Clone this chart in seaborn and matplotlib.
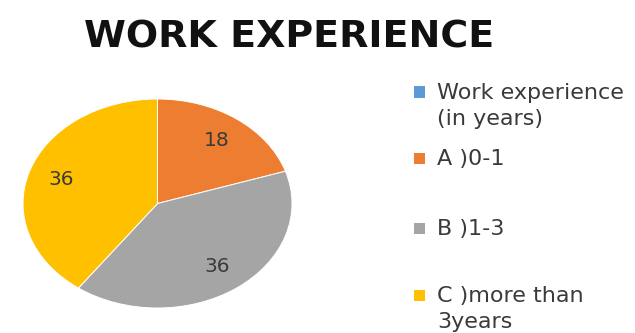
import matplotlib
matplotlib.use("Agg")
import matplotlib.pyplot as plt
from matplotlib.patches import Rectangle
import seaborn as sns

# Survey data: work experience of respondents
categories = ["Work experience\n(in years)", "A )0-1", "B )1-3", "C )more than\n3years"]
counts = [0, 18, 36, 36]
colors = ["#5B9BD5", "#ED7D31", "#A5A5A5", "#FFC000"]
title = "WORK EXPERIENCE"

sns.set_theme(style="white")
palette = sns.color_palette(colors)
plt.rcParams["font.family"] = ["DejaVu Sans"]

W, H = 635, 333
fig = plt.figure(figsize=(W / 100, H / 100), dpi=100)
fig.patch.set_facecolor("white")

# Pie occupies a slightly flattened ellipse on the left
left, right, top, bottom = 23, 292, 99, 308
ax = fig.add_axes([left / W, 1 - bottom / H, (right - left) / W, (bottom - top) / H])

total = sum(counts)
shown = [(c, p) for c, p in zip(counts, palette) if c > 0]
wedges, _, autotexts = ax.pie(
    [c for c, _ in shown],
    colors=[p for _, p in shown],
    startangle=90,
    counterclock=False,
    autopct=lambda pct: f"{pct * total / 100:.0f}",
    pctdistance=0.75,
    radius=1.0,
    wedgeprops=dict(edgecolor="white", linewidth=0.7),
    textprops=dict(fontsize=14.5, color="#3a3a3a"),
)
ax.set_aspect("auto")
ax.set_xlim(-1, 1)
ax.set_ylim(-1, 1)
ax.axis("off")

# Title
fig.text(289 / W, 1 - 48 / H, title, ha="center", va="baseline",
         fontsize=27.4, fontweight="bold", color="#111111")

# Legend: square key aligned with the first line of each label
legend_fs = 16
row_centers = [92, 158, 228, 295]
for label, color, yc in zip(categories, palette, row_centers):
    fig.patches.append(Rectangle((414 / W, 1 - (yc + 5.5) / H), 11 / W, 11 / H,
                                 transform=fig.transFigure, facecolor=color,
                                 edgecolor="none"))
    fig.text(437 / W, 1 - (yc - 0.4 * legend_fs / 0.72) / H, label,
             ha="left", va="top", fontsize=legend_fs, color="#3a3a3a",
             linespacing=1.37)

fig.savefig("out.png", dpi=100, facecolor="white")
